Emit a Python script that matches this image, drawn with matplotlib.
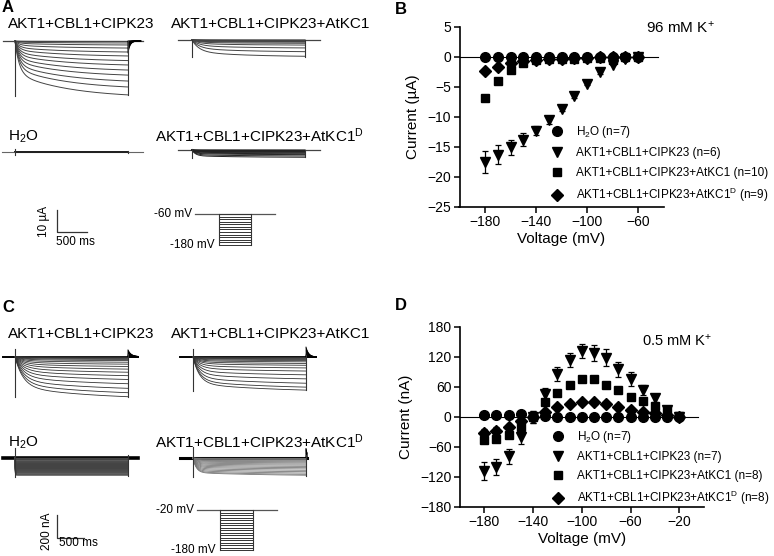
import numpy as np
import matplotlib
matplotlib.use("Agg")
import matplotlib.pyplot as plt

plt.rcParams["font.family"] = ["Liberation Sans", "DejaVu Sans"]
plt.rcParams["mathtext.fontset"] = "custom"
plt.rcParams["mathtext.rm"] = "Liberation Sans"
plt.rcParams["mathtext.it"] = "Liberation Sans:italic"
plt.rcParams["mathtext.bf"] = "Liberation Sans:bold"
plt.rcParams["mathtext.default"] = "regular"

# ---------------- data ----------------
labels = ["H$_2$O", "AKT1+CBL1+CIPK23", "AKT1+CBL1+CIPK23+AtKC1",
          "AKT1+CBL1+CIPK23+AtKC1$^D$"]
n_B = [7, 6, 10, 9]
n_D = [7, 7, 8, 8]

# B: I-V at 96 mM K+ (uA)
volt_B = [-180, -170, -160, -150, -140, -130, -120, -110, -100, -90, -80, -70, -60]
h2o_B = [0.0, 0.0, 0.0, 0.0, 0.0, 0.0, 0.0, 0.0, 0.0, 0.0, 0.0, 0.0, 0.0]
h2o_B_err = [0.1, 0.1, 0.1, 0.1, 0.1, 0.1, 0.1, 0.1, 0.1, 0.1, 0.1, 0.1, 0.1]
akt_B = [-17.5, -16.3, -15.1, -13.8, -12.3, -10.6, -8.7, -6.6, -4.5, -2.6, -1.3, -0.4, 0.0]
akt_B_err = [1.8, 1.6, 1.3, 1.1, 0.8, 0.6, 0.4, 0.3, 0.2, 0.2, 0.1, 0.1, 0.0]
kc1_B = [-6.8, -4.1, -2.2, -1.0, -0.6, -0.4, -0.3, -0.3, -0.2, -0.2, -0.6, -0.1, 0.0]
kc1_B_err = [0.3, 0.3, 0.3, 0.2, 0.1, 0.1, 0.1, 0.1, 0.1, 0.1, 0.1, 0.1, 0.0]
kc1d_B = [-2.4, -1.7, -1.1, -0.7, -0.5, -0.4, -0.3, -0.2, -0.2, -0.1, -0.1, -0.1, 0.0]
kc1d_B_err = [0.2, 0.2, 0.2, 0.1, 0.1, 0.1, 0.1, 0.1, 0.1, 0.1, 0.1, 0.1, 0.0]

# D: I-V at 0.5 mM K+ (nA)
volt_D = [-180, -170, -160, -150, -140, -130, -120, -110, -100, -90, -80, -70, -60,
          -50, -40, -30, -20]
h2o_D = [3, 4, 3, 6, 0, 1, 0, 0, 0, 0, -1, -1, -1, 0, -1, -1, -1]
h2o_D_err = [2, 2, 2, 2, 12, 2, 2, 2, 2, 2, 2, 2, 2, 2, 2, 2, 2]
akt_D = [-108, -100, -79, -41, -1, 45, 85, 113, 131, 128, 118, 95, 75, 53, 37, 14, 0]
akt_D_err = [18, 16, 15, 13, 12, 13, 14, 14, 14, 16, 17, 15, 14, 10, 8, 8, 4]
kc1_D = [-46, -45, -37, -21, -1, 29, 48, 63, 75, 75, 64, 54, 40, 31, 22, 11, 1]
kc1_D_err = [6, 5, 5, 8, 4, 5, 4, 4, 4, 4, 4, 4, 4, 4, 4, 3, 2]
kc1d_D = [-33, -28, -21, -9, 0, 9, 19, 25, 29, 29, 25, 20, 14, 10, 7, 3, 0]
kc1d_D_err = [8, 7, 6, 6, 4, 4, 4, 4, 4, 4, 4, 4, 3, 3, 3, 2, 2]

# A: current traces at 96 mM K+ (steady-state amplitude per sweep, uA)
amp_A_akt = [0.2, 0.9, 1.8, 3.2, 5.0, 6.8, 8.9, 10.9, 13.2, 15.5, 18.2, 20.9, 24.5]
amp_A_kc1 = [0.05, 0.1, 0.15, 0.25, 0.35, 0.5, 0.7, 1.0, 1.5, 2.3, 3.6, 5.3, 7.4]
amp_A_h2o = [0.0, 0.02, 0.04, 0.06, 0.08, 0.1, 0.12, 0.14, 0.16, 0.18, 0.2, 0.22, 0.25]
amp_A_kc1d = [0.05, 0.1, 0.2, 0.3, 0.45, 0.6, 0.8, 1.0, 1.3, 1.7, 2.1, 2.7, 3.3]
steps_A = [-60, -70, -80, -90, -100, -110, -120, -130, -140, -150, -160, -170, -180]

# C: current traces at 0.5 mM K+ (nA)
amp_C_akt = [2, 5, 10, 16, 24, 34, 48, 65, 85, 108, 135, 165, 198, 235, 275, 313, 348]
amp_C_kc1 = [1, 3, 6, 10, 15, 22, 31, 42, 56, 72, 95, 122, 155, 190, 228, 262, 288]
amp_C_h2o = [0, 9, 18, 28, 37, 46, 55, 65, 74, 83, 92, 102, 111, 120, 129, 139, 148]
amp_C_kc1d = [3, 7, 12, 18, 25, 33, 42, 52, 62, 73, 84, 95, 107, 119, 131, 142, 150]
steps_C = [-20, -30, -40, -50, -60, -70, -80, -90, -100, -110, -120, -130, -140,
           -150, -160, -170, -180]

# ---------------- layout helpers ----------------
W, H = 774, 556
fig = plt.figure(figsize=(W / 100, H / 100), dpi=100)


def box(x0, y0, x1, y1):
    return [x0 / W, 1 - y1 / H, (x1 - x0) / W, (y1 - y0) / H]


def ftext(px, py, s, **kw):
    fig.text(px / W, 1 - py / H, s, **kw)


def canvas(y0, y1, ox, oy, px_ms, px_unit):
    ax = fig.add_axes(box(0, y0, 390, y1))
    ax.set_xlim((0 - ox) / px_ms, (390 - ox) / px_ms)
    ax.set_ylim((oy - y1) / px_unit, (oy - y0) / px_unit)
    ax.axis("off")
    return ax


def family(ax, t0, base, amps, dur, tf, a_fast, ts, pre, post, color="#444", lw=0.7,
           tail=0.0, tail_tau=40, spike=(0.0, 0.0), base_lw=0.9, base_col="k"):
    t = np.linspace(0, dur, 400)
    slow = (1 - np.exp(-t / ts)) / (1 - np.exp(-dur / ts))
    shape = a_fast * (1 - np.exp(-t / tf)) + (1 - a_fast) * slow
    ax.plot([t0 - pre, t0 + dur + post], [base, base], color=base_col, lw=base_lw, zorder=1)
    for a in amps:
        ax.plot(t0 + t, base - a * shape, color=color, lw=lw, zorder=2)
        if tail:
            tt = np.linspace(0, min(post, 6 * tail_tau), 80)
            ax.plot(t0 + dur + tt, base + tail * a * np.exp(-tt / tail_tau),
                    color="k", lw=lw, zorder=2)
    top = max(amps)
    ax.plot([t0, t0], [base + spike[0], base - top - spike[1]], color="#333", lw=0.8)
    ax.plot([t0 + dur, t0 + dur], [base + spike[0] * 0.3, base - top - spike[1] * 0.3],
            color="#333", lw=0.8)


def protocol(rect, steps, hold_x, step_x, hold_lbl, low_lbl, fs=8.5):
    ax = fig.add_axes(rect)
    ax.set_xlim(*hold_x)
    ax.set_ylim(steps[-1], steps[0])
    ax.axis("off")
    ax.plot(hold_x, [steps[0], steps[0]], color="#555", lw=0.9, clip_on=False)
    for v in steps:
        ax.plot(step_x, [v, v], color="#333", lw=0.7, clip_on=False)
    for x in step_x:
        ax.plot([x, x], [steps[0], steps[-1]], color="#333", lw=0.8, clip_on=False)
    ax.annotate(hold_lbl, (hold_x[0], steps[0]), xytext=(-2, 0), textcoords="offset points",
                ha="right", va="center", fontsize=fs)
    ax.annotate(low_lbl, (step_x[0], steps[-1]), xytext=(-3, 0), textcoords="offset points",
                ha="right", va="center", fontsize=fs)


# ---------------- panel A ----------------
sxA, syA = 0.06, 2.2          # px per ms, px per uA
axA = canvas(0, 280, 15, 41, sxA, syA)
durA = 113 / sxA


def posA(px, py):
    return (px - 15) / sxA, (41 - py) / syA


t0, b0 = posA(15, 41)
family(axA, t0, b0, amp_A_akt, durA, 70, 0.6, 900, 12 / sxA, 15 / sxA,
       tail=-0.22, tail_tau=35, spike=(0, 0.6), base_col="#444")
t0, b0 = posA(192, 40)
family(axA, t0, b0, amp_A_kc1, durA, 120, 0.72, 900, 14 / sxA, 15 / sxA, spike=(0, 0.4),
       base_col="#444")
t0, b0 = posA(15, 151.7)
family(axA, t0, b0, amp_A_h2o, durA, 5, 1.0, 900, 13 / sxA, 15 / sxA, color="#222",
       lw=0.5, spike=(1.4, 1.2), base_col="#666", base_lw=0.8)
t0, b0 = posA(192, 150)
family(axA, t0, b0, amp_A_kc1d, durA, 60, 0.8, 900, 14 / sxA, 15 / sxA, color="#222",
       spike=(0.5, 0.3), base_col="#444")

# scale bar A
sx0, sy0 = posA(57, 232)
axA.plot([sx0, sx0, sx0 + 500], [sy0 + 10, sy0, sy0], color="#333", lw=0.9)
ftext(44, 221, "10 \u00b5A", rotation=90, ha="center", va="center", fontsize=8.5)
ftext(56, 242, "500 ms", ha="left", va="center", fontsize=8.5)

protocol(box(195, 214, 275, 245), steps_A, [-400, 933], [0, 533], "-60 mV", "-180 mV")

ftext(2, 8, "A", fontsize=12, fontweight="bold", va="center")
ftext(8, 24, labels[1], fontsize=11, va="center")
ftext(171, 24, labels[2], fontsize=11, va="center")
ftext(8, 137, labels[0], fontsize=11, va="center")
ftext(155, 136, labels[3], fontsize=11, va="center")

# ---------------- panel C ----------------
sxC, syC = 0.054, 0.115       # px per ms, px per nA
axC = canvas(280, 556, 15, 356.7, sxC, syC)
durC = 113 / sxC


def posC(px, py):
    return (px - 15) / sxC, (356.7 - py) / syC


t0, b0 = posC(15, 356.7)
family(axC, t0, b0, amp_C_akt, durC, 150, 0.75, 1500, 12 / sxC, 10 / sxC, color="#333",
       lw=0.6, tail=0.17, tail_tau=60, spike=(70, 5), base_lw=1.4)
t0, b0 = posC(193, 357)
family(axC, t0, b0, amp_C_kc1, durC, 120, 0.8, 1500, 13 / sxC, 10 / sxC, color="#333",
       lw=0.6, tail=0.3, tail_tau=50, spike=(70, 10), base_lw=1.4)
t0, b0 = posC(15, 458)
family(axC, t0, b0, amp_C_h2o, durC, 5, 1.0, 1500, 12 / sxC, 10 / sxC, color="#444",
       lw=1.0, spike=(85, 20), base_lw=2.6)
t0, b0 = posC(193, 458)
family(axC, t0, b0, amp_C_kc1d, durC, 60, 0.85, 1500, 13 / sxC, 1 / sxC, color="#777",
       lw=0.6, tail=0.55, tail_tau=30, spike=(95, 15), base_lw=2.2)

sx0, sy0 = posC(57, 538)
axC.plot([sx0, sx0, sx0 + 500], [sy0 + 200, sy0, sy0], color="#333", lw=0.9)
ftext(47, 531, "200 nA", rotation=90, ha="center", va="center", fontsize=8.5)
ftext(59, 543, "500 ms", ha="left", va="center", fontsize=8.5)

protocol(box(197, 510, 277, 550), steps_C, [-426, 1056], [0, 611], "-20 mV", "-180 mV")

ftext(2, 308, "C", fontsize=12, fontweight="bold", va="center")
ftext(8, 334, labels[1], fontsize=11, va="center")
ftext(171, 334, labels[2], fontsize=11, va="center")
ftext(8, 443, labels[0], fontsize=11, va="center")
ftext(155, 442, labels[3], fontsize=11, va="center")

# ---------------- I-V panels ----------------
markers = [("o", 7), ("v", 7.5), ("s", 6), ("D", 6)]


def iv_panel(rect, volts, series, errs, ns, xlim, ylim, xticks, yticks, ylabel,
             zero_end, leg_anchor, spacing):
    ax = fig.add_axes(rect)
    ax.set_xlim(*xlim)
    ax.set_ylim(*ylim)
    for s in ["top", "right"]:
        ax.spines[s].set_visible(False)
    for s in ["left", "bottom"]:
        ax.spines[s].set_linewidth(1.2)
    ax.set_xticks(xticks)
    ax.set_yticks(yticks)
    ax.tick_params(direction="out", length=4, width=1.1, labelsize=10, pad=2)
    ax.axhline(0, xmax=zero_end, color="k", lw=0.8, zorder=1)
    for (m, ms), y, e, lab, n in zip(markers, series, errs, labels, ns):
        ax.errorbar(volts, y, yerr=e, fmt="none", ecolor="k", elinewidth=0.9,
                    capsize=2.5, capthick=0.9, zorder=2)
        ax.plot(volts, y, m, color="k", ms=ms, ls="none", label=f"{lab} (n={n})", zorder=3)
    ax.set_xlabel("Voltage (mV)", fontsize=11, labelpad=2)
    ax.set_ylabel(ylabel, fontsize=11, labelpad=5)
    ax.legend(loc="upper left", bbox_to_anchor=leg_anchor, bbox_transform=fig.transFigure,
              frameon=False, fontsize=8.5, borderpad=0, handlelength=1.0,
              handletextpad=1.05, labelspacing=spacing, borderaxespad=0)
    return ax


axB = iv_panel(box(459.5, 26.7, 663.6, 206.7), volt_B,
               [h2o_B, akt_B, kc1_B, kc1d_B], [h2o_B_err, akt_B_err, kc1_B_err, kc1d_B_err],
               n_B, (-200, -40), (-25, 5), [-180, -140, -100, -60],
               [5, 0, -5, -10, -15, -20, -25], "Current (\u00b5A)", 0.972,
               (551.5 / W, 1 - 124 / H), 0.62)
axD = iv_panel(box(459.9, 326.5, 703.7, 506.5), volt_D,
               [h2o_D, akt_D, kc1_D, kc1d_D], [h2o_D_err, akt_D_err, kc1_D_err, kc1d_D_err],
               n_D, (-200, 0), (-180, 180), [-180, -140, -100, -60, -20],
               [180, 120, 60, 0, -60, -120, -180], "Current (nA)", 0.978,
               (552.5 / W, 1 - 429 / H), 0.55)

ftext(646, 28, "96 mM K$^{+}$", fontsize=11, ha="left", va="center")
ftext(642, 341, "0.5 mM K$^{+}$", fontsize=10.5, ha="left", va="center")
ftext(395, 10, "B", fontsize=12, fontweight="bold", va="center")
ftext(395, 306, "D", fontsize=12, fontweight="bold", va="center")

fig.savefig("out.png", dpi=100)
